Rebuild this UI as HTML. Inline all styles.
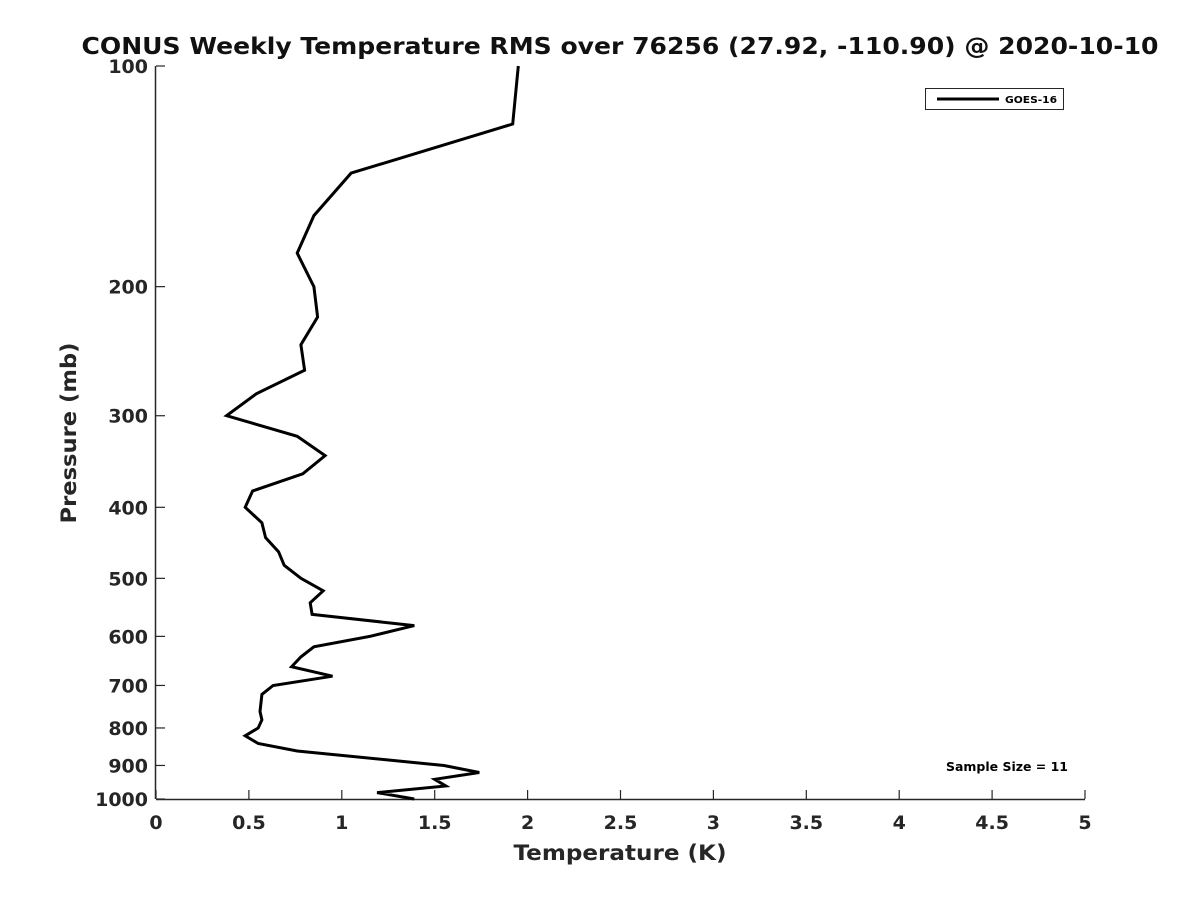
<!DOCTYPE html>
<html><head><meta charset="utf-8"><style>
body{margin:0;background:#fff;}
svg{display:block;font-family:"DejaVu Sans","Liberation Sans",sans-serif;}
</style></head><body>
<svg id="chart" width="1200" height="900">
<rect width="1200" height="900" fill="#fff"/>
<text x="620" y="54" text-anchor="middle" font-size="23" font-weight="bold" fill="#111" textLength="1077" lengthAdjust="spacingAndGlyphs">CONUS Weekly Temperature RMS over 76256 (27.92, -110.90) @ 2020-10-10</text>
<g id="axes"></g>
<g id="plot"></g>
<text x="620" y="860" text-anchor="middle" font-size="21" font-weight="bold" fill="#262626" textLength="213" lengthAdjust="spacingAndGlyphs">Temperature (K)</text>
<text transform="translate(76,433) rotate(-90)" text-anchor="middle" font-size="21" font-weight="bold" fill="#262626" textLength="181" lengthAdjust="spacingAndGlyphs">Pressure (mb)</text>
<g>
<rect x="925.5" y="88.5" width="138" height="21" fill="#fff" stroke="#262626" stroke-width="1"/>
<line x1="937" y1="99" x2="999" y2="99" stroke="#000" stroke-width="3"/>
<text x="1005" y="103" font-size="10" font-weight="bold" fill="#000" textLength="52" lengthAdjust="spacingAndGlyphs">GOES-16</text>
</g>
<text x="1007" y="771" text-anchor="middle" font-size="12" font-weight="bold" fill="#000" textLength="122" lengthAdjust="spacingAndGlyphs">Sample Size = 11</text>
</svg>
<script>
const pressures=[100,120,140,160,180,200,220,240,260,280,300,320,340,360,380,400,420,440,460,480,500,520,540,560,580,600,620,640,660,680,700,720,760,780,800,820,840,860,900,920,940,960,980,1000];
const rmsValues=[1.95,1.92,1.05,0.85,0.76,0.85,0.87,0.78,0.80,0.54,0.38,0.76,0.91,0.79,0.52,0.48,0.57,0.59,0.66,0.69,0.78,0.90,0.83,0.84,1.39,1.15,0.85,0.78,0.73,0.95,0.63,0.57,0.56,0.57,0.55,0.48,0.55,0.76,1.55,1.74,1.50,1.56,1.19,1.39];
const xTicks=[0,0.5,1,1.5,2,2.5,3,3.5,4,4.5,5];
const xTickLabels=["0","0.5","1","1.5","2","2.5","3","3.5","4","4.5","5"];
const yTicks=[100,200,300,400,500,600,700,800,900,1000];
const yTickLabels=["100","200","300","400","500","600","700","800","900","1000"];
const NS="http://www.w3.org/2000/svg";
const L=156,R=1085,T=66,B=799;
function xs(v){return L+(R-L)*(v-0)/5;}
function ys(p){return T+(B-T)*Math.log10(p/100);}
const axes=document.getElementById('axes'),plot=document.getElementById('plot');
function mk(tag,attrs,parent){const e=document.createElementNS(NS,tag);for(const k in attrs)e.setAttribute(k,attrs[k]);parent.appendChild(e);return e;}
const xAxis=mk('line',{x1:L,y1:B+0.5,x2:R,y2:B+0.5,stroke:'#262626','stroke-width':1.5},axes);


const yAxis=mk('line',{x1:L-0.5,y1:T,x2:L-0.5,y2:B,stroke:'#262626','stroke-width':1.5},axes);


xTicks.forEach((v,i)=>{const x=xs(v);
 const t=mk('line',{x1:x,y1:B,x2:x,y2:B-9,stroke:'#262626','stroke-width':1.2},axes);
 
 
 const lb=mk('text',{x:x,y:B+30,'text-anchor':'middle','font-size':19,'font-weight':'bold',fill:'#262626'},axes);
 lb.textContent=xTickLabels[i];
 
 });
yTicks.forEach((v,i)=>{const y=ys(v);
 const t=mk('line',{x1:L,y1:y,x2:L+9,y2:y,stroke:'#262626','stroke-width':1.2},axes);
 
 
 const lb=mk('text',{x:L-8,y:y+7,'text-anchor':'end','font-size':19,'font-weight':'bold',fill:'#262626'},axes);
 lb.textContent=yTickLabels[i];
 
 });
const pts=pressures.map((p,i)=>xs(rmsValues[i]).toFixed(1)+','+ys(p).toFixed(1)).join(' ');
const line=mk('polyline',{points:pts,fill:'none',stroke:'#000','stroke-width':3,'stroke-linejoin':'miter'},plot);


</script>
</body></html>
